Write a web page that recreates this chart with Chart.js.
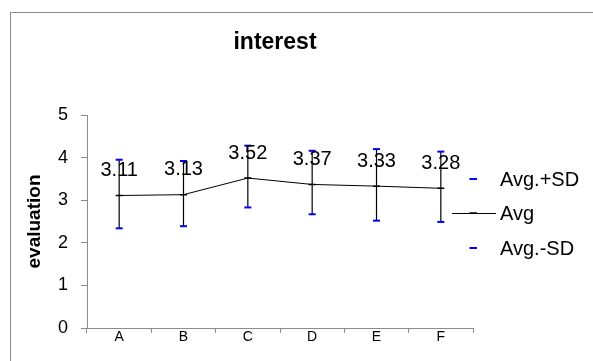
<!DOCTYPE html>
<html>
<head>
<meta charset="utf-8">
<script src="https://cdn.jsdelivr.net/npm/chart.js@4"></script>
<style>
  body { margin: 0; background: #fff; }
</style>
</head>
<body>
<canvas id="chart" width="593" height="361"></canvas>
<script>
// datos
const categories = ['A', 'B', 'C', 'D', 'E', 'F'];
const avg = [3.11, 3.13, 3.52, 3.37, 3.33, 3.28];
const avgPlusSD = [3.95, 3.92, 4.28, 4.16, 4.20, 4.14];
const avgMinusSD = [2.34, 2.39, 2.83, 2.67, 2.52, 2.49];
const yTicks = [0, 1, 2, 3, 4, 5];

const FONT = 'Liberation Sans, Arial, sans-serif';
const BLUE = '#0000ff';
const AXIS = '#8c8c8c';

// barras de error, etiquetas, titulo, leyenda y marco
const extras = {
    id: 'extras',
    beforeDatasetsDraw(chart) {
        const ctx = chart.ctx;
        const y = chart.scales.y;
        const plus = chart.getDatasetMeta(0).data;
        ctx.save();
        ctx.strokeStyle = '#000';
        ctx.lineWidth = 1.2;
        plus.forEach((pt, i) => {
            ctx.beginPath();
            ctx.moveTo(pt.x, y.getPixelForValue(avgPlusSD[i]));
            ctx.lineTo(pt.x, y.getPixelForValue(avgMinusSD[i]));
            ctx.stroke();
        });
        ctx.restore();
    },
    afterDraw(chart) {
        const ctx = chart.ctx;
        ctx.save();

        // marco
        ctx.strokeStyle = '#8c8c8c';
        ctx.lineWidth = 1;
        ctx.strokeRect(10.5, 12.5, 700, 500);

        // titulo
        ctx.fillStyle = '#000';
        ctx.font = 'bold 23px ' + FONT;
        ctx.textAlign = 'center';
        ctx.textBaseline = 'middle';
        ctx.fillText('interest', 275, 43);

        // etiquetas de valores
        ctx.font = '20px ' + FONT;
        chart.getDatasetMeta(1).data.forEach((pt, i) => {
            ctx.fillText(avg[i].toFixed(2), pt.x, pt.y - 25);
        });

        // leyenda
        const lx = 500;
        const rows = [
            { text: 'Avg.+SD', y: 179, color: BLUE, line: false },
            { text: 'Avg', y: 213, color: '#000', line: true },
            { text: 'Avg.-SD', y: 248, color: BLUE, line: false }
        ];
        ctx.textAlign = 'left';
        rows.forEach(r => {
            if (r.line) {
                ctx.strokeStyle = '#000';
                ctx.lineWidth = 1;
                ctx.beginPath();
                ctx.moveTo(452, r.y + 0.5);
                ctx.lineTo(496, r.y + 0.5);
                ctx.stroke();
            }
            ctx.strokeStyle = r.color;
            ctx.lineWidth = r.line ? 1.5 : 2;
            ctx.beginPath();
            ctx.moveTo(469.5, r.y);
            ctx.lineTo(477, r.y);
            ctx.stroke();
            ctx.fillStyle = '#000';
            ctx.fillText(r.text, lx, r.y + 1);
        });
        ctx.restore();
    }
};

new Chart(document.getElementById('chart'), {
    type: 'line',
    data: {
        labels: categories,
        datasets: [{
            label: 'Avg.+SD',
            data: avgPlusSD,
            showLine: false,
            pointStyle: 'line',
            pointRadius: 3.5,
            pointBorderWidth: 2,
            borderColor: BLUE,
            backgroundColor: BLUE
        }, {
            label: 'Avg',
            data: avg,
            borderColor: '#000',
            borderWidth: 1,
            pointStyle: 'line',
            pointRadius: 3.5,
            pointBorderWidth: 1.5,
            pointBorderColor: '#000',
            tension: 0
        }, {
            label: 'Avg.-SD',
            data: avgMinusSD,
            showLine: false,
            pointStyle: 'line',
            pointRadius: 3.5,
            pointBorderWidth: 2,
            borderColor: BLUE,
            backgroundColor: BLUE
        }]
    },
    options: {
        responsive: false,
        animation: false,
        layout: { padding: { left: 0, right: 120, top: 115, bottom: 0 } },
        plugins: {
            legend: { display: false },
            title: { display: false },
            tooltip: { enabled: false }
        },
        scales: {
            x: {
                offset: true,
                grid: { offset: true, drawOnChartArea: false, tickLength: 5, color: AXIS },
                border: { color: AXIS },
                ticks: { color: '#000', font: { family: FONT, size: 14 }, padding: -4, maxRotation: 0 },
                afterFit(scale) { scale.height = 33; }
            },
            y: {
                min: 0,
                max: 5,
                afterBuildTicks(scale) { scale.ticks = yTicks.map(v => ({ value: v })); },
                grid: { drawOnChartArea: false, tickLength: 6, color: AXIS },
                border: { color: AXIS },
                ticks: { color: '#000', font: { family: FONT, size: 18 }, padding: 13 },
                title: {
                    display: true,
                    text: 'evaluation',
                    color: '#000',
                    font: { family: FONT, size: 19, weight: 'bold' },
                    padding: { top: 23, bottom: 0 }
                },
                afterFit(scale) { scale.width = 87; }
            }
        }
    },
    plugins: [extras]
});
</script>
</body>
</html>
